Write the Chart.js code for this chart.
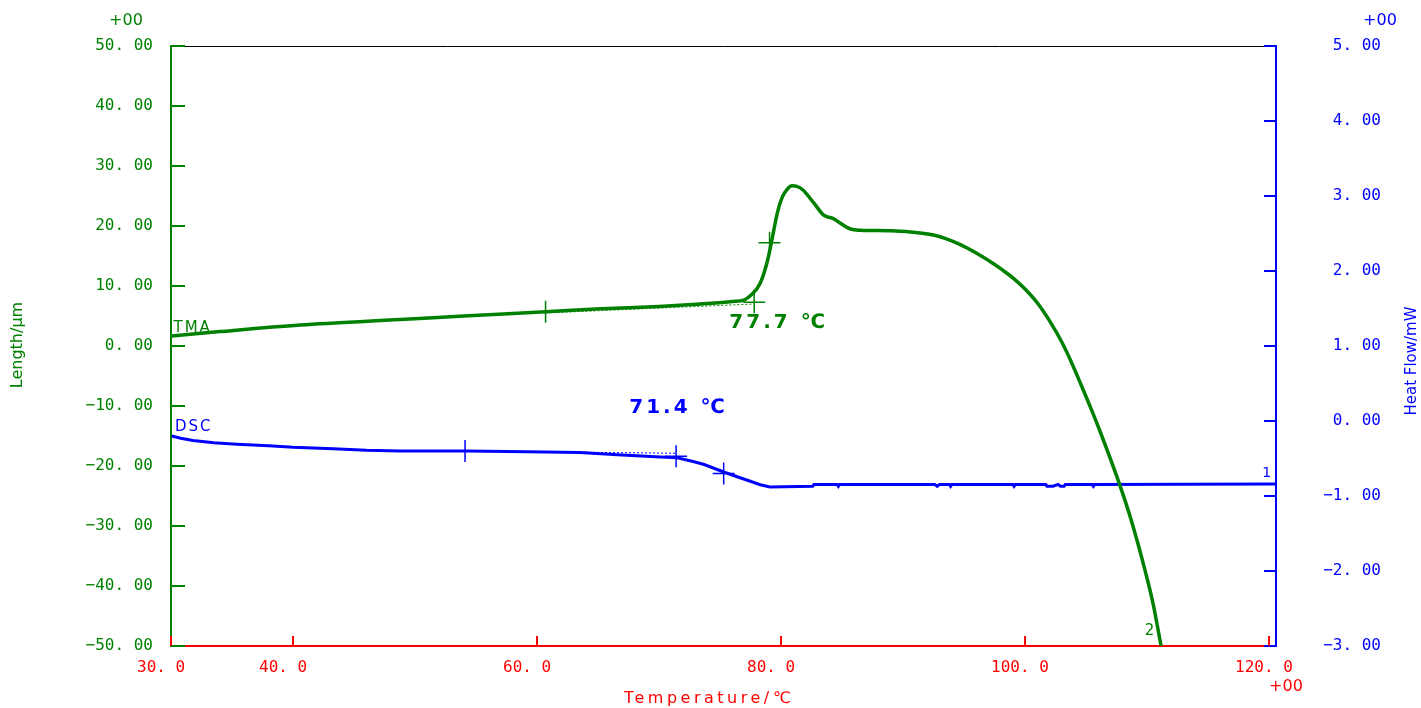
<!DOCTYPE html>
<html>
<head>
<meta charset="utf-8">
<title>TMA / DSC</title>
<script src="https://cdn.jsdelivr.net/npm/chart.js@4.4.1/dist/chart.umd.min.js"></script>
<style>
  body { margin: 0; background: #fff; }
  #wrap { width: 1421px; height: 708px; }
</style>
</head>
<body>
<div id="wrap"><canvas id="Canvas" width="1421" height="708"></canvas></div>
<script>
// ---- data ----
const xTicks = [30, 40, 60, 80, 100, 120];
const lengthTicks = [-50, -40, -30, -20, -10, 0, 10, 20, 30, 40, 50];
const heatTicks = [-3, -2, -1, 0, 1, 2, 3, 4, 5];

// TMA curve (left axis, um)
const tmaTemp = [30.06, 34.0, 40.6, 48.8, 54.0, 60.7, 65.2, 70.0, 73.4, 76.0,
                 77.0, 77.5, 78.3, 78.9, 79.3, 79.7, 80.1, 80.5, 80.9, 81.3,
                 81.8, 82.7, 83.5, 84.2, 85.7, 86.5, 89.0, 91.4, 92.5, 93.5,
                 94.7, 96.0, 97.2, 98.2, 99.1, 100.0, 101.0, 102.1, 103.0, 103.8,
                 104.6, 105.4, 106.2, 107.6, 108.7, 109.9, 110.5, 111.15];
const tmaLength = [1.67, 2.4, 3.5, 4.4, 5.0, 5.7, 6.2, 6.6, 7.0, 7.4,
                   7.7, 8.4, 10.5, 14.3, 18.2, 22.2, 24.8, 26.1, 26.7, 26.6,
                   26.0, 23.8, 21.8, 21.3, 19.5, 19.3, 19.2, 18.85, 18.5, 17.9,
                   16.9, 15.5, 14.0, 12.6, 11.2, 9.5, 7.2, 3.9, 0.7, -2.7,
                   -6.5, -10.4, -14.5, -22.2, -29.0, -37.9, -43.0, -50.0];

// DSC curve (right axis, mW)
const dscTemp = [30.06, 30.8, 31.8, 33.5, 35.4, 38.0, 40.0, 43.3, 46.0, 48.8,
                 54.1, 59.2, 63.5, 66.6, 70.1, 71.5, 72.8, 73.7, 74.5, 75.3,
                 76.7, 77.6, 78.3, 79.1, 82.6, 82.7, 84.6, 84.7, 84.8, 92.6,
                 92.8, 93.0, 93.8, 93.9, 94.0, 99.0, 99.1, 99.2, 101.7, 101.8,
                 102.3, 102.7, 102.9, 103.2, 103.3, 105.5, 105.6, 105.7, 120.5];
const dscHeat = [-0.20, -0.23, -0.26, -0.29, -0.31, -0.33, -0.35, -0.37, -0.39, -0.40,
                 -0.40, -0.41, -0.42, -0.45, -0.48, -0.49, -0.54, -0.58, -0.63, -0.68,
                 -0.76, -0.81, -0.85, -0.88, -0.87, -0.845, -0.845, -0.87, -0.845, -0.845,
                 -0.87, -0.845, -0.845, -0.87, -0.845, -0.845, -0.87, -0.845, -0.845, -0.87,
                 -0.87, -0.845, -0.87, -0.87, -0.845, -0.845, -0.87, -0.845, -0.84];

// analysis marks
const tmaCrossTemp = [60.7, 77.8, 79.06];
const tmaCrossLength = [5.7, 7.3, 17.2];
const tmaBaseTemp = [60.7, 77.8];
const tmaBaseLength = [5.5, 7.0];
const dscCrossTemp = [54.1, 71.4, 75.3];
const dscCrossHeat = [-0.40, -0.47, -0.70];
const dscBaseTemp = [54.1, 71.4];
const dscBaseHeat = [-0.40, -0.43];

const GREEN = '#008000';
const BLUE = '#0000ff';
const RED = '#ff0000';

function pts(xs, ys) {
    return xs.map((x, i) => ({x: x, y: ys[i]}));
}

function fmt(v, d) {
    let s = Math.abs(v).toFixed(d).replace('.', '. ');
    return (v < 0 ? '\u2212' : '') + s;
}

const tickFont = {family: 'DejaVu Sans Mono', size: 16};

function noPad(s) {
    s.paddingTop = 0;
    s.paddingBottom = 0;
}

// inner tick marks, frame top and the loose texts
const extras = {
    id: 'extras',
    afterDraw(chart) {
        const ctx = chart.ctx;
        const a = chart.chartArea;
        const sx = chart.scales.x, sl = chart.scales.yL, sr = chart.scales.yR;

        function seg(x1, y1, x2, y2) {
            ctx.beginPath(); ctx.moveTo(x1, y1); ctx.lineTo(x2, y2); ctx.stroke();
        }
        function txt(s, x, y, color, font, spacing, rot) {
            ctx.save();
            ctx.translate(x, y);
            if (rot) ctx.rotate(rot);
            ctx.fillStyle = color;
            ctx.font = font;
            ctx.letterSpacing = (spacing || 0) + 'px';
            ctx.textAlign = 'center';
            ctx.textBaseline = 'middle';
            ctx.fillText(s, 0, 0);
            ctx.restore();
        }

        ctx.save();
        ctx.strokeStyle = '#000';
        ctx.lineWidth = 1;
        seg(a.left, a.top + 0.5, a.right, a.top + 0.5);

        ctx.strokeStyle = GREEN; ctx.lineWidth = 2;
        sl.ticks.forEach(t => { let y = sl.getPixelForValue(t.value); seg(a.left, y, a.left + 14, y); });
        ctx.strokeStyle = BLUE; ctx.lineWidth = 2;
        sr.ticks.forEach(t => { let y = sr.getPixelForValue(t.value); seg(a.right - 12, y, a.right, y); });
        ctx.strokeStyle = RED; ctx.lineWidth = 2;
        sx.ticks.forEach(t => { let x = sx.getPixelForValue(t.value); seg(x, a.bottom, x, a.bottom - 10); });
        ctx.restore();

        const f16 = '16px "DejaVu Sans"';
        txt('+00', 126, 21, GREEN, f16);
        txt('+00', 1380, 21, BLUE, f16);
        txt('+00', 1286, 687, RED, f16);
        txt('Length/\u03bcm', 18, 345, GREEN, f16, 0, -Math.PI / 2);
        txt('Heat Flow/mW', 1412, 361, BLUE, '15px "DejaVu Sans"', 0, -Math.PI / 2);
        txt('Temperature/\u2103', 709, 699, RED, f16, 3.5);

        txt('TMA', sx.getPixelForValue(33.5) - 21, sl.getPixelForValue(3.0), GREEN, '15px "DejaVu Sans"', 2);
        txt('DSC', sx.getPixelForValue(33.5) - 20, sr.getPixelForValue(-0.08), BLUE, '15px "DejaVu Sans"', 2);
        txt('77.7 \u2103', sx.getPixelForValue(79.8), sl.getPixelForValue(3.8), GREEN, 'bold 20px "DejaVu Sans"', 3);
        txt('71.4 \u2103', sx.getPixelForValue(71.6), sr.getPixelForValue(0.17), BLUE, 'bold 20px "DejaVu Sans"', 3);
        txt('1', sx.getPixelForValue(119.8), sr.getPixelForValue(-0.70), BLUE, '14px "DejaVu Sans"');
        txt('2', sx.getPixelForValue(110.2), sl.getPixelForValue(-47.5), GREEN, '15px "DejaVu Sans"');
    }
};

const ctx_main = document.getElementById('Canvas');

let main_chart = new Chart(ctx_main, {
    type: 'line',
    data: {
        datasets: [{
            label: 'TMA',
            data: pts(tmaTemp, tmaLength),
            yAxisID: 'yL',
            borderColor: GREEN,
            borderWidth: 3.5,
            pointRadius: 0,
            cubicInterpolationMode: 'monotone'
        },
        {
            label: 'DSC',
            data: pts(dscTemp, dscHeat),
            yAxisID: 'yR',
            borderColor: BLUE,
            borderWidth: 3,
            pointRadius: 0,
            tension: 0
        },
        {
            label: 'TMA base',
            data: pts(tmaBaseTemp, tmaBaseLength),
            yAxisID: 'yL',
            borderColor: GREEN,
            borderWidth: 1,
            borderDash: [2, 2],
            pointRadius: 0
        },
        {
            label: 'DSC base',
            data: pts(dscBaseTemp, dscBaseHeat),
            yAxisID: 'yR',
            borderColor: BLUE,
            borderWidth: 1,
            borderDash: [2, 2],
            pointRadius: 0
        },
        {
            label: 'TMA marks',
            data: pts(tmaCrossTemp, tmaCrossLength),
            yAxisID: 'yL',
            showLine: false,
            pointStyle: 'cross',
            pointRadius: 11,
            pointBorderWidth: 1.5,
            pointBorderColor: GREEN
        },
        {
            label: 'DSC marks',
            data: pts(dscCrossTemp, dscCrossHeat),
            yAxisID: 'yR',
            showLine: false,
            pointStyle: 'cross',
            pointRadius: 11,
            pointBorderWidth: 1.5,
            pointBorderColor: BLUE
        }]
    },
    options: {
        responsive: false,
        animation: false,
        layout: { padding: {top: 46, left: 0, right: 40, bottom: 0} },
        scales: {
            x: {
                type: 'linear',
                position: 'bottom',
                min: 30,
                max: 120.57,
                afterBuildTicks: s => { s.ticks = xTicks.map(v => ({value: v})); },
                afterFit: s => { s.height = 62; s.paddingLeft = 0; s.paddingRight = 0; },
                border: { color: RED, width: 2 },
                grid: { drawOnChartArea: false, drawTicks: false },
                ticks: {
                    color: RED, font: tickFont, padding: 12,
                    align: 'start', labelOffset: -34, maxRotation: 0,
                    callback: v => fmt(v, 1)
                }
            },
            yL: {
                type: 'linear',
                position: 'left',
                min: -50,
                max: 50,
                afterBuildTicks: s => { s.ticks = lengthTicks.map(v => ({value: v})); },
                afterFit: s => { s.width = 171; noPad(s); },
                border: { color: GREEN, width: 2 },
                grid: { drawOnChartArea: false, drawTicks: false },
                ticks: { color: GREEN, font: tickFont, padding: 18, callback: v => fmt(v, 2) }
            },
            yR: {
                type: 'linear',
                position: 'right',
                min: -3,
                max: 5,
                afterBuildTicks: s => { s.ticks = heatTicks.map(v => ({value: v})); },
                afterFit: s => { s.width = 105; noPad(s); },
                border: { color: BLUE, width: 2 },
                grid: { drawOnChartArea: false, drawTicks: false },
                ticks: { color: BLUE, font: tickFont, padding: 10, crossAlign: 'far', callback: v => fmt(v, 2) }
            }
        },
        plugins: {
            legend: { display: false },
            title: { display: false },
            tooltip: { enabled: false }
        }
    },
    plugins: [extras]
});
</script>
</body>
</html>
